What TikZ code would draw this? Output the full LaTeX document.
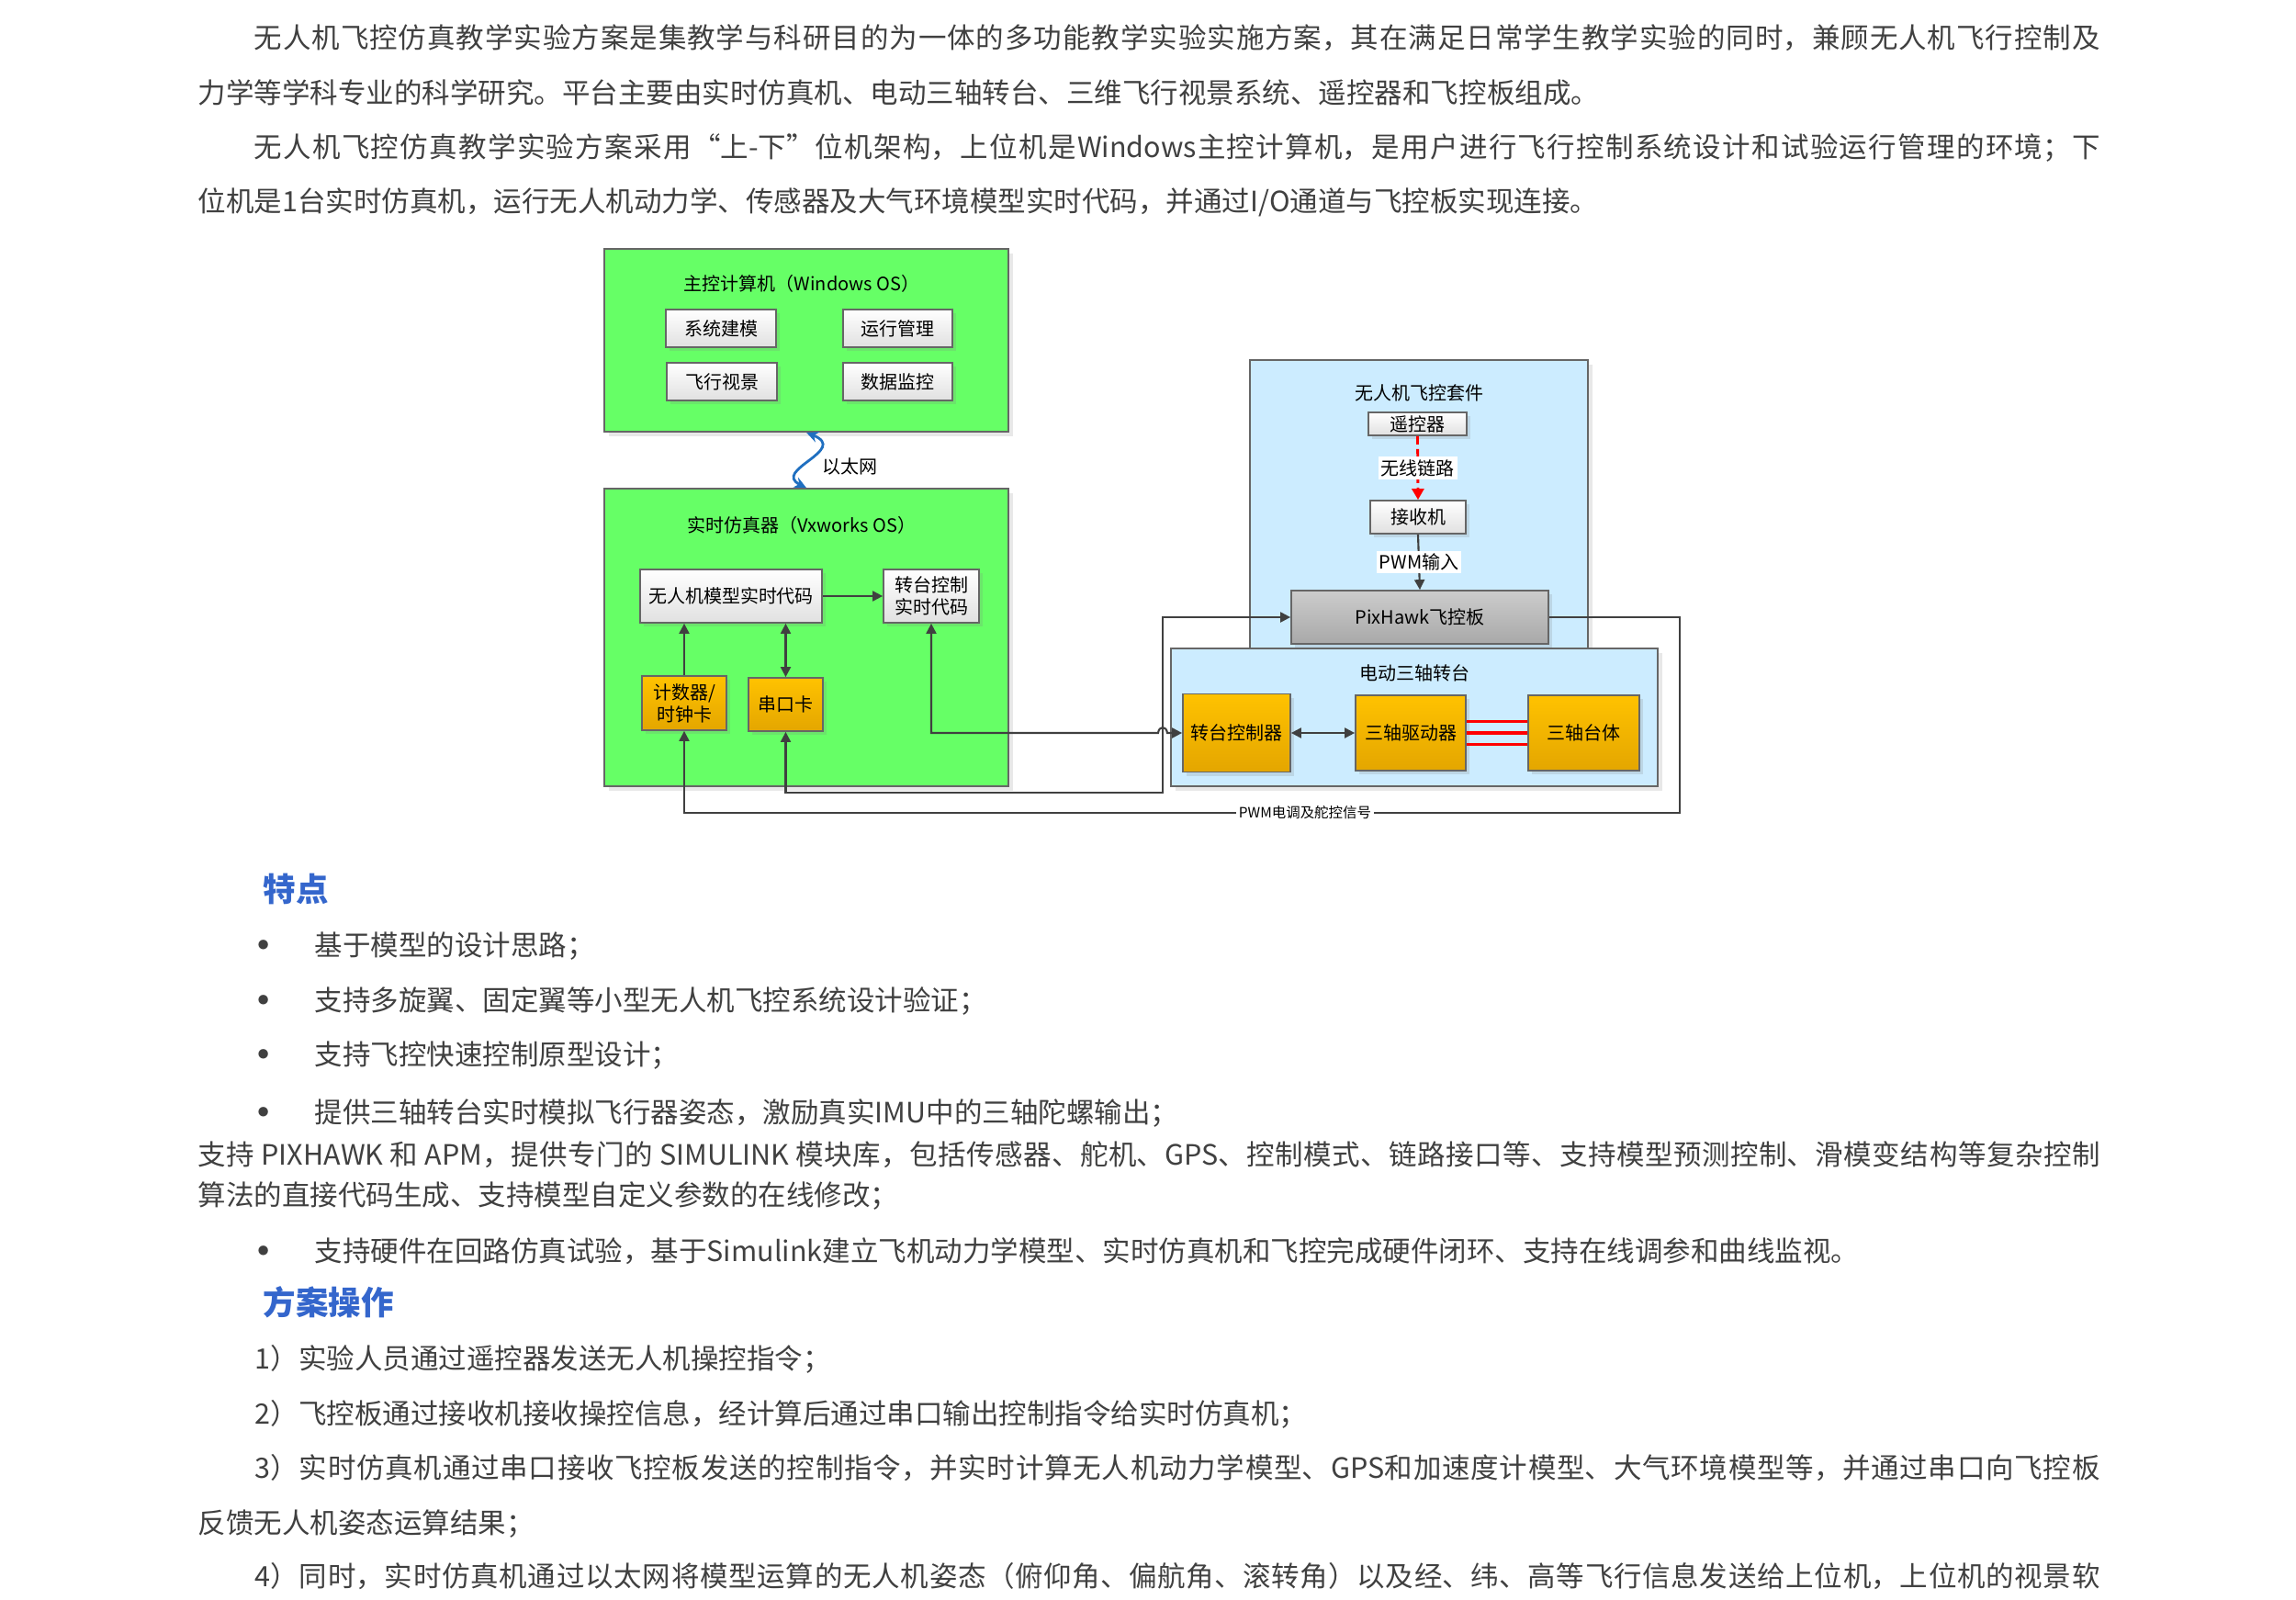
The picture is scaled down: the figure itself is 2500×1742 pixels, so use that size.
\documentclass[tikz,border=0pt]{standalone}
\usepackage{fontspec}
\setmainfont{Noto Sans CJK SC}
\usetikzlibrary{arrows.meta,shadows}

\XeTeXlinebreaklocale "zh"
\XeTeXlinebreakskip=0pt plus 1pt

\definecolor{boxgreen}{RGB}{102,255,102}
\definecolor{kitblue}{RGB}{204,236,255}
\definecolor{cardtop}{RGB}{255,194,0}
\definecolor{cardbot}{RGB}{228,166,0}
\definecolor{linegray}{RGB}{64,64,64}
\definecolor{bodygray}{RGB}{64,64,64}
\definecolor{headblue}{RGB}{52,102,204}
\definecolor{ethblue}{RGB}{31,111,192}

\newcommand{\diagfont}{\fontsize{5.69pt}{6.8pt}\selectfont}
\newcommand{\signalfont}{\fontsize{4.4pt}{5pt}\selectfont}
\newcommand{\bodyfont}{\fontsize{8.68pt}{16.79pt}\selectfont}
\newcommand{\dotfont}{\fontsize{14pt}{14pt}\selectfont}
\newcommand{\headfont}{\fontsize{10.1pt}{12pt}\selectfont\bfseries}

\begin{document}
\begin{tikzpicture}[x=0.1mm,y=-0.1mm,
  >={Triangle[length=1.1mm,width=1.1mm]},
  panel/.style={draw=black!60,line width=0.5pt,fill=boxgreen,drop shadow={opacity=0.18,shadow xshift=0.5mm,shadow yshift=-0.5mm}},
  kitpanel/.style={draw=black!60,line width=0.5pt,fill=kitblue,drop shadow={opacity=0.18,shadow xshift=0.5mm,shadow yshift=-0.5mm}},
  wbox/.style={draw=black!60,line width=0.5pt,top color=white,bottom color=black!12,font=\diagfont,inner sep=0pt,align=center,drop shadow={opacity=0.2,shadow xshift=0.4mm,shadow yshift=-0.4mm}},
  card/.style={draw=black!60,line width=0.5pt,top color=cardtop,bottom color=cardbot,font=\diagfont,inner sep=0pt,align=center,drop shadow={opacity=0.2,shadow xshift=0.4mm,shadow yshift=-0.4mm}},
  board/.style={draw=black!60,line width=0.5pt,top color=black!20,bottom color=black!34,font=\diagfont,inner sep=0pt,drop shadow={opacity=0.2,shadow xshift=0.4mm,shadow yshift=-0.4mm}},
  ptitle/.style={font=\diagfont},
  conn/.style={draw=linegray,line width=0.6pt},
  tag/.style={font=\diagfont,fill=white,inner sep=0.3mm},
  ethlink/.style={draw=ethblue,line width=0.8pt,{Stealth[length=1.3mm,width=1.2mm]}-{Stealth[length=1.3mm,width=1.2mm]}},
  radio/.style={draw=red,line width=0.8pt,dash pattern=on 0.9mm off 0.5mm,-{Triangle[length=1.2mm,width=1.3mm]}},
  redline/.style={draw=red,line width=1pt},
  body/.style={font=\bodyfont,text=bodygray,inner sep=0pt,anchor=base west},
  bullet/.style={font=\dotfont,text=bodygray,inner sep=0pt,anchor=base},
  heading/.style={font=\headfont,text=headblue,inner sep=0pt,anchor=base west}]

\useasboundingbox (0,0) rectangle (2500,1742);

\node[body] (intro) at (215,53) {\parbox[t]{207.1mm}{\hspace*{2em}无人机飞控仿真教学实验方案是集教学与科研目的为一体的多功能教学实验实施方案，其在满足日常学生教学实验的同时，兼顾无人机飞行控制及\linebreak 力学等学科专业的科学研究。平台主要由实时仿真机、电动三轴转台、三维飞行视景系统、遥控器和飞控板组成。\par\hspace*{2em}无人机飞控仿真教学实验方案采用“上-下”位机架构，上位机是Windows主控计算机，是用户进行飞行控制系统设计和试验运行管理的环境；下\linebreak 位机是1台实时仿真机，运行无人机动力学、传感器及大气环境模型实时代码，并通过I/O通道与飞控板实现连接。}};

\node[panel,minimum width=44mm,minimum height=19.9mm] (pc) at (878,370.5) {};
\node[ptitle] (pctitle) at (873,309) {主控计算机（Windows OS）};
\node[wbox,minimum width=12mm,minimum height=4.1mm] (model) at (785,357.5) {系统建模};
\node[wbox,minimum width=11.9mm,minimum height=4.1mm] (manage) at (977.5,357.5) {运行管理};
\node[wbox,minimum width=12mm,minimum height=4.1mm] (scene) at (786,415.5) {飞行视景};
\node[wbox,minimum width=11.9mm,minimum height=4.1mm] (monitor) at (977.5,415.5) {数据监控};

\node[panel,minimum width=44mm,minimum height=32.4mm] (sim) at (878,694) {};
\node[ptitle] (simtitle) at (873,572) {实时仿真器（Vxworks OS）};
\node[wbox,minimum width=19.8mm,minimum height=5.8mm] (uavcode) at (796,649) {无人机模型实时代码};
\node[wbox,minimum width=10.4mm,minimum height=5.8mm] (tcode) at (1014,649) {转台控制\\实时代码};
\node[card,minimum width=9.2mm,minimum height=5.9mm] (clock) at (745,765.5) {计数器/\\时钟卡};
\node[card,minimum width=8.1mm,minimum height=5.8mm] (serial) at (855.5,767) {串口卡};

\draw[ethlink] (pc.south) .. controls (925,490) and (840,512) .. (sim.north);
\node[font=\diagfont,anchor=west,inner sep=0pt] (ethlabel) at (895,508) {以太网};

\node[kitpanel,minimum width=36.8mm,minimum height=31.8mm] (kit) at (1545,551) {};
\node[ptitle] (kittitle) at (1545,428) {无人机飞控套件};
\node[wbox,minimum width=10.7mm,minimum height=2.5mm] (remote) at (1543.5,461.5) {遥控器};
\node[wbox,minimum width=10.4mm,minimum height=3.6mm] (receiver) at (1544,563) {接收机};
\node[board,minimum width=28mm,minimum height=5.8mm] (pixhawk) at (1546,672) {PixHawk飞控板};

\node[kitpanel,minimum width=53mm,minimum height=15mm] (table) at (1540,781) {};
\node[ptitle] (tabletitle) at (1540,733) {电动三轴转台};
\node[card,minimum width=11.7mm,minimum height=8.5mm] (tctrl) at (1346.5,798) {转台控制器};
\node[card,minimum width=12mm,minimum height=8.2mm] (driver) at (1536,798) {三轴驱动器};
\node[card,minimum width=12.1mm,minimum height=8.2mm] (body) at (1724.5,798) {三轴台体};

\draw[radio] (remote.south) -- (receiver.north) node[tag,midway] (radiotag) {无线链路};
\draw[conn,->] (receiver.south) -- (pixhawk.north) node[tag,midway] (pwmtag) {PWM输入};

\draw[conn,->] (uavcode) -- (tcode);
\draw[conn,->] (clock.north) -- (clock.north |- uavcode.south);
\draw[conn,<->] (serial.north) -- (serial.north |- uavcode.south);
\draw[conn,<->] (tctrl) -- (driver);

\draw[redline] ([yshift=1.25mm]driver.east) -- ([yshift=1.25mm]body.west);
\draw[redline] (driver.east) -- (body.west);
\draw[redline] ([yshift=-1.25mm]driver.east) -- ([yshift=-1.25mm]body.west);

\coordinate (hopL) at (1261,798);
\coordinate (hopR) at (1271,798);
\coordinate (serbend) at (1266,863);
\coordinate (pwmbend) at (1829,885);

\draw[conn,<->] (tcode.south) |- (hopL) .. controls (1262,790) and (1270,790) .. (hopR) -- (tctrl.west);
\draw[conn,<->] (pixhawk.west) -| (serbend) -| (serial.south);
\draw[conn,->] (pixhawk.east) -| (pwmbend) -| (clock.south);
\node[font=\signalfont,fill=white,inner sep=0.3mm] (pwmsignal) at (1421,885) {PWM电调及舵控信号};

\node[heading] (feathead) at (286,981) {特点};

\node[bullet] (dot1) at (287,1047) {•};
\node[body] (feat1) at (342,1040) {基于模型的设计思路；};
\node[bullet] (dot2) at (287,1107) {•};
\node[body] (feat2) at (342,1100) {支持多旋翼、固定翼等小型无人机飞控系统设计验证；};
\node[bullet] (dot3) at (287,1166) {•};
\node[body] (feat3) at (342,1159) {支持飞控快速控制原型设计；};
\node[bullet] (dot4) at (287,1229) {•};
\node[body] (feat4) at (342,1222) {提供三轴转台实时模拟飞行器姿态，激励真实IMU中的三轴陀螺输出；};

\node[body] (feat5) at (215,1268) {\parbox[t]{207.1mm}{\baselineskip=4.4mm 支持 PIXHAWK 和 APM，提供专门的 SIMULINK 模块库，包括传感器、舵机、GPS、控制模式、链路接口等、支持模型预测控制、滑模变结构等复杂控制\linebreak 算法的直接代码生成、支持模型自定义参数的在线修改；}};

\node[bullet] (dot6) at (287,1380) {•};
\node[body] (feat6) at (342,1373) {支持硬件在回路仿真试验，基于Simulink建立飞机动力学模型、实时仿真机和飞控完成硬件闭环、支持在线调参和曲线监视。};

\node[heading] (ophead) at (286,1431) {方案操作};

\node[body] (op1) at (277,1490) {1）实验人员通过遥控器发送无人机操控指令；};
\node[body] (op2) at (277,1550) {2）飞控板通过接收机接收操控信息，经计算后通过串口输出控制指令给实时仿真机；};
\node[body] (op3) at (215,1609) {\parbox[t]{207.1mm}{\baselineskip=6mm \hspace*{6.2mm}3）实时仿真机通过串口接收飞控板发送的控制指令，并实时计算无人机动力学模型、GPS和加速度计模型、大气环境模型等，并通过串口向飞控板\linebreak 反馈无人机姿态运算结果；}};
\node[body] (op4) at (215,1727) {\parbox[t]{207.1mm}{\parfillskip=0pt \hspace*{6.2mm}4）同时，实时仿真机通过以太网将模型运算的无人机姿态（俯仰角、偏航角、滚转角）以及经、纬、高等飞行信息发送给上位机，上位机的视景软}};
\end{tikzpicture}
\end{document}
